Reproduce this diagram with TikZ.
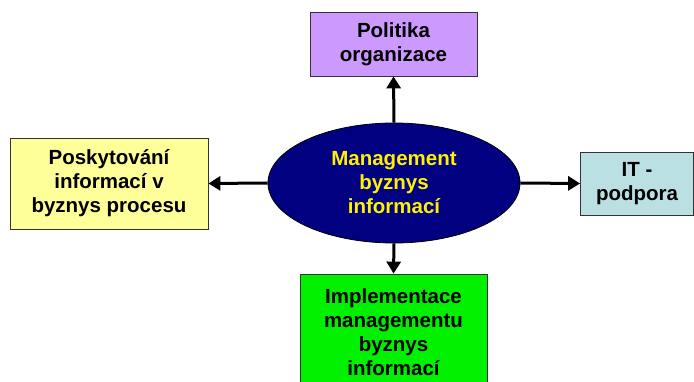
\documentclass[tikz,border=0pt]{standalone}
\usepackage{fontspec}
\setmainfont{Liberation Sans}
\usetikzlibrary{arrows.meta,shapes.geometric}
\definecolor{lav}{RGB}{204,153,255}
\definecolor{paleyellow}{RGB}{255,255,153}
\definecolor{palecyan}{RGB}{187,224,227}
\definecolor{brightgreen}{RGB}{0,240,0}
\definecolor{navy}{RGB}{0,0,128}
\begin{document}
\begin{tikzpicture}[x=1pt,y=-1pt,
  txt/.style={font=\fontsize{20.5}{24}\selectfont\bfseries, align=center},
  box/.style={txt, draw=black!80, line width=0.8pt, rectangle, inner sep=0pt},
  conn/.style={line width=3pt, -{Triangle[width=14pt,length=12pt]}}]
\useasboundingbox (0,0) rectangle (694,382);
\node[ellipse, draw=black, line width=0.8pt, fill=navy, text=yellow, txt,
  minimum width=252pt, minimum height=120pt, inner sep=0pt] (c) at (394,183) {Management\\byznys\\informací};
\node[box, fill=lav, minimum width=167pt, minimum height=64pt] (top) at (393.5,44) {Politika\\organizace};
\node[box, fill=paleyellow, minimum width=198pt, minimum height=91pt] (left) at (109,183.5) {Poskytování\\informací v\\byznys procesu};
\node[box, fill=palecyan, minimum width=113pt, minimum height=63pt] (right) at (637,183.5) {IT -\\podpora};
\node[box, fill=brightgreen, minimum width=187pt, minimum height=116pt] (bot) at (393.5,332) {Implementace\\managementu\\byznys\\informací};
\draw[conn] (c.north) -- (top.south);
\draw[conn] (c.south) -- (bot.north);
\draw[conn] (c.west) -- (left.east);
\draw[conn] (c.east) -- (right.west);
\end{tikzpicture}
\end{document}
